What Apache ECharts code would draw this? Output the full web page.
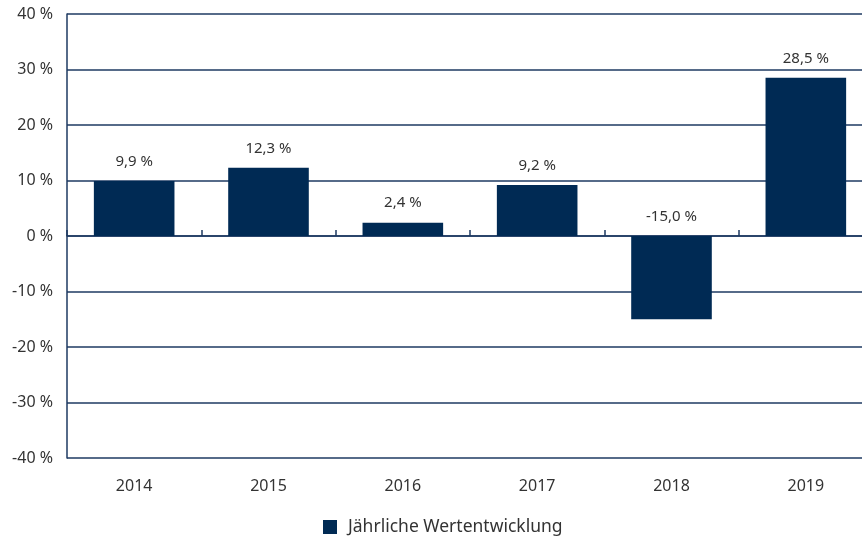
<!DOCTYPE html>
<html>
<head>
<meta charset="utf-8">
<script src="https://cdn.jsdelivr.net/npm/echarts@6/dist/echarts.min.js"></script>
<style>
  html, body { margin: 0; padding: 0; background: #fff; overflow: hidden; }
  /* rechter Rand ist im Original abgeschnitten */
  #chart { width: 873px; height: 536px; }
</style>
</head>
<body>
<div id="chart"></div>
<script>
// Daten
var years = ["2014", "2015", "2016", "2017", "2018", "2019"];
var werte = [9.9, 12.3, 2.4, 9.2, -15.0, 28.5];
var seriesName = "Jährliche Wertentwicklung";

var navy = "#002a54";
var lineColor = "#1e3a62";
var textColor = "#333333";
var font = "Noto Sans";

function pct(v) {
  return v.toFixed(1).replace(".", ",") + " %";
}

var myChart = echarts.init(document.getElementById("chart"));

var option = {
  animation: false,
  textStyle: { fontFamily: font },
  grid: { left: 67, right: 0, top: 14, bottom: 78 },
  legend: {
    data: [seriesName],
    left: 318,
    top: 513,
    icon: "rect",
    itemWidth: 14,
    itemHeight: 14,
    textStyle: { color: textColor, fontSize: 17.5, fontFamily: font, padding: [0, 0, 0, 6] }
  },
  xAxis: [
    {
      // untere Achse mit Jahreszahlen
      type: "category",
      data: years,
      axisLine: { show: false, onZero: false },
      axisTick: { show: false },
      axisLabel: { color: textColor, fontSize: 16, margin: 20, fontFamily: font }
    },
    {
      // Nulllinie mit Trennstrichen
      type: "category",
      data: years,
      position: "bottom",
      axisLine: { show: true, onZero: true, lineStyle: { color: lineColor, width: 1.5 } },
      axisTick: { show: true, inside: true, length: 6, lineStyle: { color: lineColor, width: 1.5 } },
      axisLabel: { show: false }
    }
  ],
  yAxis: {
    type: "value",
    min: -40,
    max: 40,
    interval: 10,
    axisLine: { show: true, lineStyle: { color: lineColor, width: 1.5 } },
    axisTick: { show: false },
    axisLabel: {
      color: textColor,
      fontSize: 16,
      margin: 14,
      fontFamily: font,
      formatter: function (v) { return v + " %"; }
    },
    splitLine: { show: true, lineStyle: { color: lineColor, width: 1.5 } }
  },
  series: [
    {
      name: seriesName,
      type: "bar",
      xAxisIndex: 0,
      data: werte,
      barWidth: "60%",
      itemStyle: { color: navy },
      label: {
        show: true,
        position: "top",
        distance: 12,
        color: textColor,
        fontSize: 15,
        fontFamily: font,
        formatter: function (p) { return pct(p.value); }
      }
    }
  ]
};

myChart.setOption(option);
</script>
</body>
</html>
